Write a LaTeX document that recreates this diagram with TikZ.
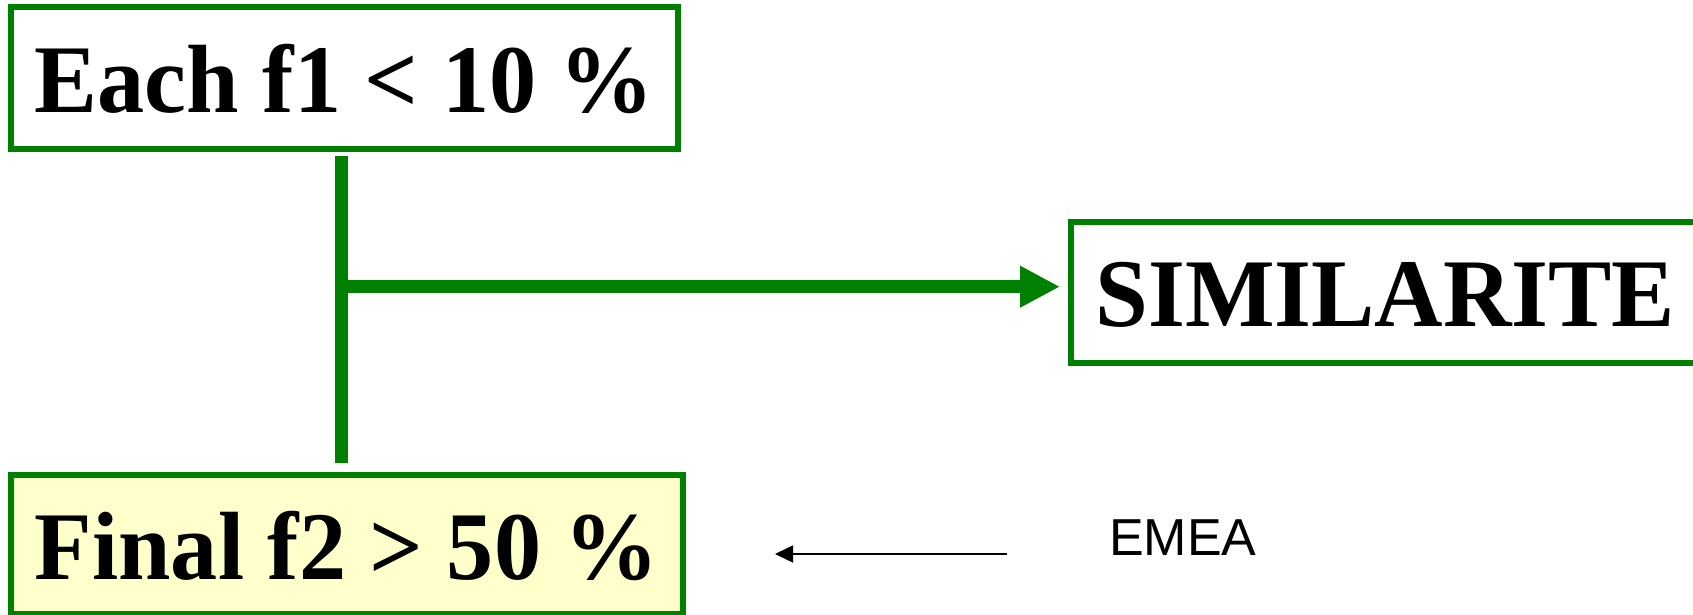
\documentclass[tikz,border=0pt]{standalone}
\usepackage{fontspec}
\usepackage{graphicx}
\setmainfont{Liberation Serif}
\newfontfamily\emeafont{Liberation Sans}
\usetikzlibrary{arrows.meta,calc}
\definecolor{boxgreen}{RGB}{0,128,0}
\definecolor{paleyellow}{RGB}{255,255,204}
\newcommand{\narrow}[2]{\scalebox{#1}[1]{#2}}
\begin{document}
\begin{tikzpicture}[x=1pt,y=1pt,
  box/.style={draw=boxgreen, line width=6pt, inner sep=0pt, text depth=0pt,
    font=\fontsize{97}{97}\selectfont\bfseries},
  conn/.style={draw=boxgreen, line width=13pt},
  thin arrow/.style={draw=black, line width=1.5pt, -{Triangle[length=18pt,width=17pt]}},
  emea/.style={inner sep=0pt, font=\emeafont\fontsize{52}{52}\selectfont}]
\useasboundingbox (0,0) rectangle (1693,615);
\clip (0,0) rectangle (1693,615);
\node[box, minimum width=667pt, minimum height=141.7pt, text height=68.9pt] (b1) at (344.5,537.15) {\narrow{0.972}{Each f1 < 10 \%}};
\node[box, fill=paleyellow, minimum width=672.3pt, minimum height=138.8pt, text height=70.4pt] (b3) at (346.85,70.4) {\narrow{0.971}{Final f2 > 50 \%}};
\node[box, minimum width=628pt, minimum height=141pt, text height=69pt] (b2) at (1385.3,322.5) {\narrow{0.978}{SIMILARITE}};
\coordinate (j) at (341,328.3);
\draw[conn, shorten <=4.3pt, shorten >=9.2pt] (b1.south -| j) -- (b3.north -| j);
\draw[conn, shorten >=8.3pt, -{Triangle[length=40pt,width=39pt]}] (j) -- (j -| b2.west);
\node[emea, anchor=base west] (em) at (1109,59) {EMEA};
\coordinate (ea) at (1007,61);
\coordinate (eb) at (775,61);
\draw[thin arrow] (ea) -- (eb);
\end{tikzpicture}
\end{document}
